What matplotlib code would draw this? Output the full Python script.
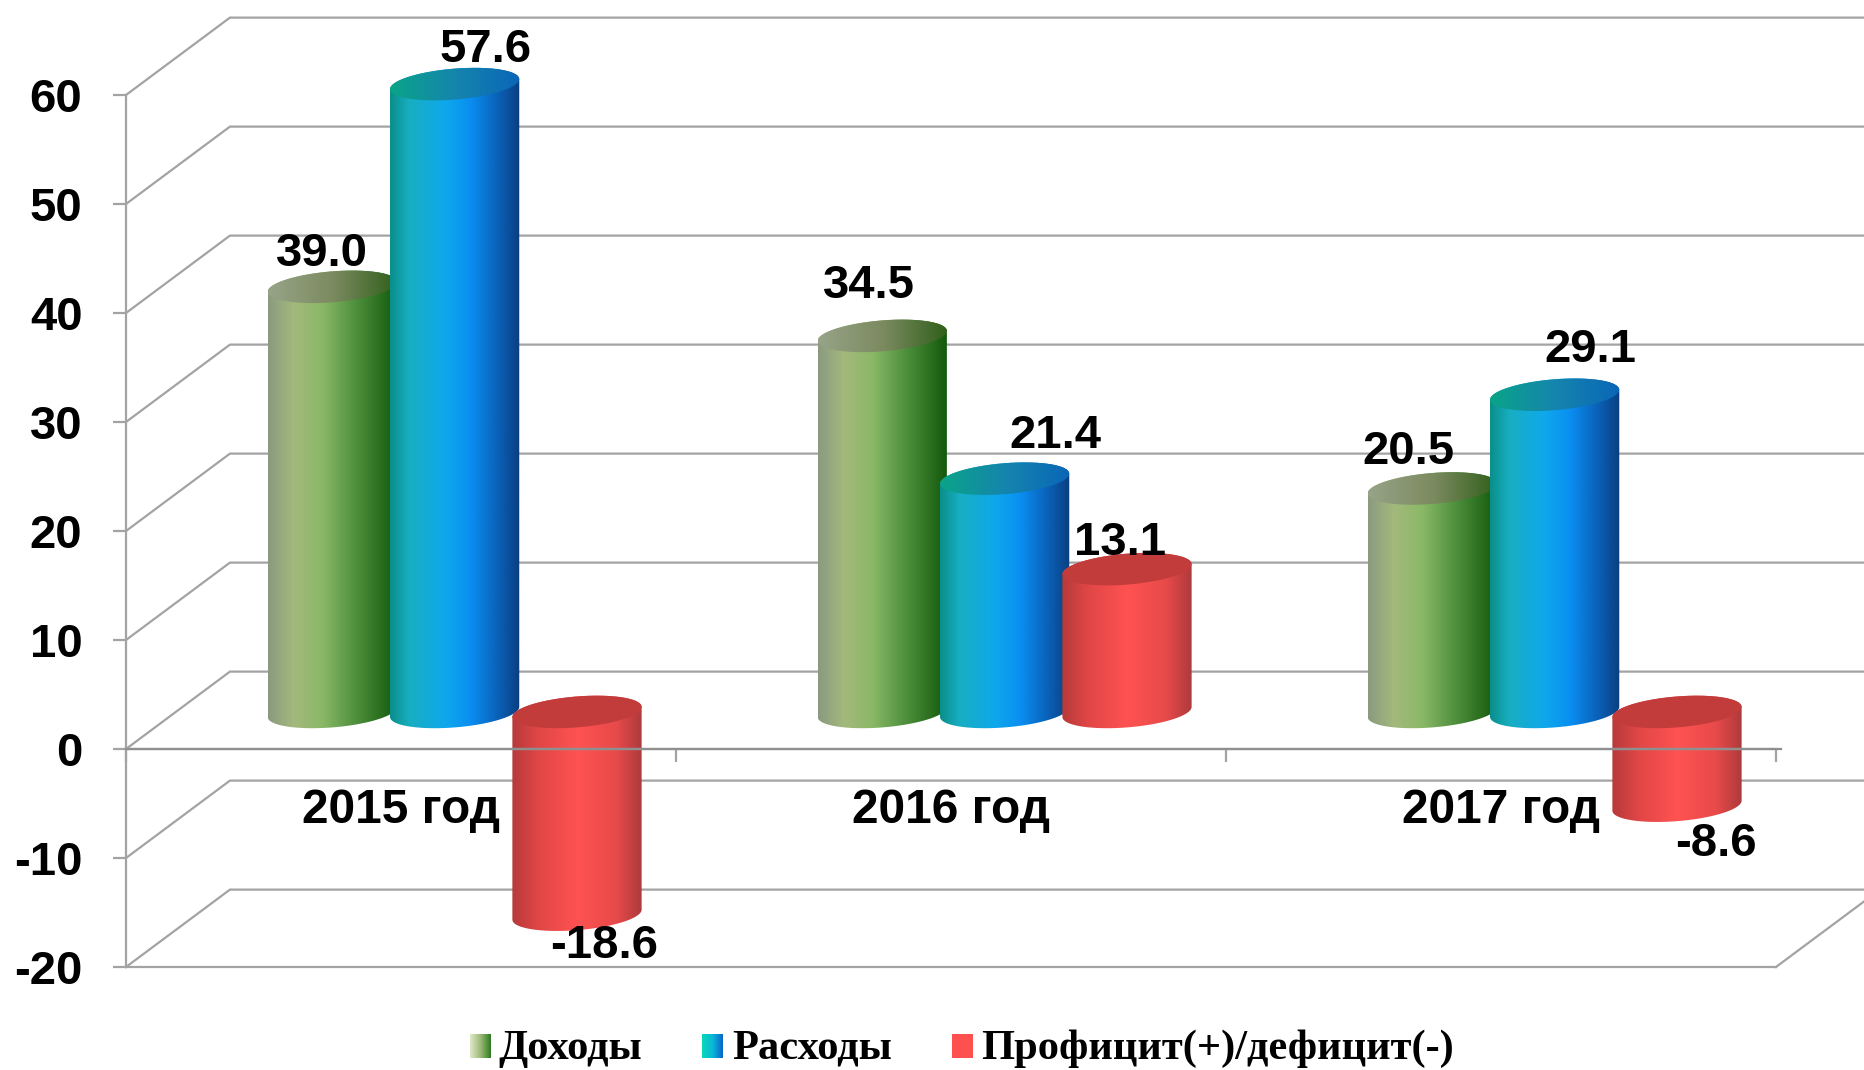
import numpy as np
import matplotlib
matplotlib.use("Agg")
import matplotlib.pyplot as plt
from matplotlib.colors import LinearSegmentedColormap
from matplotlib.path import Path
from matplotlib.patches import PathPatch

# data
years = ["2015 год", "2016 год", "2017 год"]
series = ["Доходы", "Расходы", "Профицит(+)/дефицит(-)"]
income = [39.0, 34.5, 20.5]
expense = [57.6, 21.4, 29.1]
balance = [-18.6, 13.1, -8.6]
yticks = [-20, -10, 0, 10, 20, 30, 40, 50, 60]

W, H = 1865, 1070
LEFT, RIGHT, TOP, BOTTOM = 126, 1776, 95, 967
GREY = "#a3a3a3"
LW = 1.6

# depth of the fake 3d box, in data units
BACK_X = 0.189
BACK_Y = 7.1
EDGE_X = 3.162
# cylinders stand in the middle of the floor
BAR_LIFT = 3.4
BAR_A = 0.1175
ELL_B = 1.42
ELL_K = 0.46
BAR_START = 0.375
BAR_STEP = 0.2225

body_cmaps = [
	LinearSegmentedColormap.from_list("g", [(0, "#8b9a80"), (0.2, "#a3b97c"), (0.42, "#8ab866"), (0.68, "#4d8f3c"), (1, "#12580a")]),
	LinearSegmentedColormap.from_list("b", [(0, "#0a8f8a"), (0.15, "#18aec2"), (0.42, "#0ea8ec"), (0.62, "#0a8ef2"), (0.85, "#0a5db2"), (1, "#0a3f80")]),
	LinearSegmentedColormap.from_list("r", [(0, "#b63a3a"), (0.2, "#e04646"), (0.5, "#ff5252"), (0.8, "#e84a4a"), (1, "#ae3a3c")]),
]
top_cmaps = [
	LinearSegmentedColormap.from_list("gt", [(0, "#97a488"), (0.5, "#7c8a60"), (1, "#2f5f1a")]),
	LinearSegmentedColormap.from_list("bt", [(0, "#0aa488"), (0.5, "#1585ad"), (1, "#0a66b8")]),
	LinearSegmentedColormap.from_list("rt", [(0, "#c43c3c"), (1, "#c23c3c")]),
]
legend_cmaps = [
	LinearSegmentedColormap.from_list("gl", ["#dfe8c8", "#9dba78", "#2f7a22"]),
	LinearSegmentedColormap.from_list("bl", ["#0ad8b8", "#0ab8d8", "#0a66c8"]),
	LinearSegmentedColormap.from_list("rl", ["#ff5050", "#ff5050"]),
]

# manual label shifts in pixels (x right, y up), same order as the values
label_shift = [
	[(-10, 33), (-13, 50), (-24, 36)],
	[(31, 34), (51, 43), (36, 45)],
	[(27, -31), (-7, 26), (39, -38)],
]


def Arc(cx, cy, t0, t1):
	t = np.linspace(t0, t1, 60)
	return np.column_stack([cx + BAR_A * np.cos(t), cy + ELL_B * np.sin(t) + ELL_K * np.cos(t)])


def ClippedGradient(ax, verts, cmap, cx, y0, y1, zorder):
	patch = PathPatch(Path(np.vstack([verts, verts[:1]])), fc="none", ec="none", transform=ax.transData)
	ax.add_patch(patch)
	patch.set_clip_on(False)
	im = ax.imshow(np.linspace(0, 1, 256)[None, :], cmap=cmap, aspect="auto", interpolation="bilinear",
		extent=(cx - BAR_A, cx + BAR_A, y0, y1), zorder=zorder)
	im.set_clip_path(patch)
	im.set_clip_box(ax.figure.bbox)


def Cylinder(ax, cx, value, idx, zorder):
	upper = max(value, 0) + BAR_LIFT
	lower = min(value, 0) + BAR_LIFT
	body = np.vstack([Arc(cx, lower, np.pi, 2 * np.pi), Arc(cx, upper, 0, np.pi)])
	ClippedGradient(ax, body, body_cmaps[idx], cx, lower - 3, upper + 3, zorder)
	ClippedGradient(ax, Arc(cx, upper, 0, 2 * np.pi), top_cmaps[idx], cx, upper - 3, upper + 3, zorder + 0.01)


plt.rcParams["font.family"] = ["Liberation Sans", "DejaVu Sans"]
fig = plt.figure(figsize=(W / 100, H / 100), dpi=100)
ax = fig.add_axes([LEFT / W, 1 - BOTTOM / H, (RIGHT - LEFT) / W, (BOTTOM - TOP) / H])
ax.set_xlim(0, 3)
ax.set_ylim(-20, 60)

# back wall and side diagonals
for v in yticks:
	ax.plot([0, BACK_X, EDGE_X], [v, v + BACK_Y, v + BACK_Y], color=GREY, lw=LW, clip_on=False, zorder=1)
ax.plot([0, 3], [-20, -20], color=GREY, lw=LW, clip_on=False, zorder=1)
ax.plot([3, EDGE_X], [-20, -20 + BACK_Y * (EDGE_X - 3) / BACK_X], color=GREY, lw=LW, clip_on=False, zorder=1)

# bars
values = [income, expense, balance]
for i, vals in enumerate(values):
	for j, v in enumerate(vals):
		Cylinder(ax, j + BAR_START + i * BAR_STEP, v, i, 2 + i * 0.1)
ax.set_xlim(0, 3)
ax.set_ylim(-20, 60)

# value labels
for i, vals in enumerate(values):
	for j, v in enumerate(vals):
		cx = j + BAR_START + i * BAR_STEP
		ax.annotate("%.1f" % v, (cx, v + BAR_LIFT), xytext=label_shift[i][j], textcoords="offset pixels",
			ha="center", va="center", fontsize=34, fontweight="bold", color="black", zorder=6, annotation_clip=False)

# axes
for s in ["top", "right"]:
	ax.spines[s].set_visible(False)
ax.spines["left"].set_color(GREY)
ax.spines["left"].set_linewidth(LW)
ax.spines["bottom"].set_position(("data", 0))
ax.spines["bottom"].set_color(GREY)
ax.spines["bottom"].set_linewidth(LW)
# zero line runs over the cylinders
ax.plot([0, 3.009], [0, 0], color="#8f8f8f", lw=LW, clip_on=False, zorder=4)
ax.set_yticks(yticks)
ax.set_yticklabels([str(v) for v in yticks], fontsize=34, fontweight="bold")
ax.tick_params(axis="y", length=9.4, width=LW, color=GREY, pad=22)
ax.set_xticks([0, 1, 2, 3])
ax.set_xticklabels([])
ax.tick_params(axis="x", which="major", length=9.4, width=LW, color=GREY)
ax.set_xticks([0.5, 1.5, 2.5], minor=True)
ax.set_xticklabels(years, minor=True, fontsize=34.5, fontweight="bold")
ax.tick_params(axis="x", which="minor", length=0, pad=28)
for t in ax.get_xticklabels(minor=True):
	t.set_zorder(6)

# legend
sq = [(470, 0), (702, 1), (952, 2)]
for x0, i in sq:
	lax = fig.add_axes([x0 / W, 1 - 1058 / H, 21 / W, 24 / H])
	lax.imshow(np.linspace(0, 1, 64)[None, :], cmap=legend_cmaps[i], aspect="auto")
	lax.axis("off")
text_x = [498, 732, 981]
for x0, s in zip(text_x, series):
	fig.text(x0 / W, 1 - 1049 / H, s, family=["Liberation Serif"], fontsize=30.6, fontweight="bold", ha="left", va="center")

fig.savefig("out.png", dpi=100)
